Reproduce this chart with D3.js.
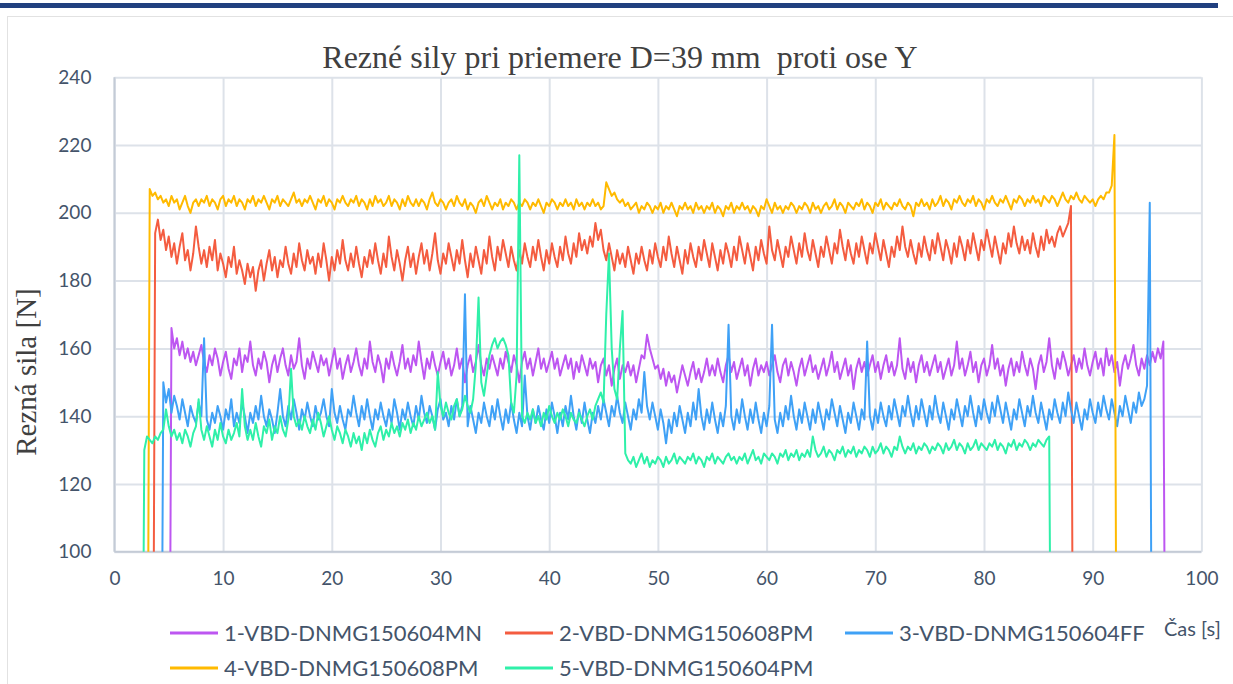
<!DOCTYPE html>
<html>
<head>
<meta charset="utf-8">
<script src="https://cdn.jsdelivr.net/npm/d3@7"></script>
<style>
  body { margin: 0; background: #fff; }
  svg { display: block; }
</style>
</head>
<body>
<div id="chart"></div>
<script>
/* CONSTANTS AND GLOBALS */
const width = 1233,
  height = 684,
  margin = { top: 77.3, bottom: 132.3, left: 114.4, right: 31.6 };

/* DATA */
const chartTitle = "Rezné sily pri priemere D=39 mm  proti ose Y";
const yTitle = "Rezná sila [N]";
const xTitle = "Čas [s]";
const seriesNames = ["1-VBD-DNMG150604MN", "2-VBD-DNMG150608PM", "3-VBD-DNMG150604FF",
  "4-VBD-DNMG150608PM", "5-VBD-DNMG150604PM"];
const seriesColors = ["#BD56F1", "#F45C40", "#3FA1F6", "#FFBA00", "#2FF0A9"];
const xTicks = [0, 10, 20, 30, 40, 50, 60, 70, 80, 90, 100];
const yTicks = [100, 120, 140, 160, 180, 200, 220, 240];

// readings every 0.25 s, first reading of each record at its start time [s]
const sampleStep = 0.25;
const startTimes = [5.0, 3.5, 4.25, 3.0, 2.5];

const force1 = [
  0, 166, 160, 163, 158, 162, 157, 160, 156, 159, 155, 158, 161, 156, 153, 158, 155, 160, 157, 152,
  156, 159, 154, 151, 157, 155, 160, 153, 158, 156, 162, 155, 152, 157, 154, 159, 156, 150, 155, 158,
  153, 157, 160, 155, 152, 158, 154, 156, 163, 155, 151, 157, 154, 159, 156, 153, 158, 155, 157, 152,
  156, 160, 154, 157, 151, 155, 158, 153, 156, 160, 155, 152, 157, 154, 162, 156, 153, 158, 155, 150,
  157, 154, 159, 155, 152, 156, 161, 154, 157, 153, 158, 155, 162, 156, 151, 157, 154, 159, 155, 152,
  156, 159, 154, 157, 152, 155, 160, 154, 157, 150, 155, 158, 153, 156, 161, 155, 152, 157, 154, 158,
  155, 152, 157, 154, 159, 156, 153, 158, 155, 150, 156, 159, 154, 157, 152, 156, 160, 154, 157, 153,
  156, 159, 154, 157, 152, 155, 158, 154, 157, 151, 156, 153, 158, 155, 152, 157, 154, 156, 150, 155,
  157, 152, 155, 149, 154, 157, 151, 155, 153, 156, 152, 155, 150, 154, 158, 157, 164, 160, 157, 154,
  155, 151, 154, 149, 153, 150, 152, 147, 151, 155, 152, 149, 153, 156, 151, 154, 150, 153, 157, 152,
  155, 152, 157, 153, 150, 155, 158, 153, 156, 151, 154, 157, 152, 155, 149, 154, 157, 152, 155, 153,
  156, 152, 155, 158, 153, 150, 155, 157, 152, 156, 153, 149, 154, 157, 152, 155, 158, 153, 155, 151,
  154, 157, 152, 155, 159, 153, 156, 151, 154, 157, 152, 155, 148, 154, 157, 153, 156, 152, 155, 158,
  153, 156, 151, 155, 158, 153, 156, 152, 155, 163, 154, 151, 157, 153, 156, 150, 155, 158, 153, 156,
  152, 155, 158, 153, 156, 151, 154, 157, 152, 155, 162, 154, 157, 152, 155, 159, 153, 156, 150, 155,
  157, 152, 155, 161, 154, 157, 152, 155, 149, 154, 157, 152, 156, 153, 159, 155, 152, 157, 154, 148,
  155, 158, 153, 156, 163, 155, 151, 157, 154, 159, 156, 152, 155, 158, 153, 157, 154, 160, 155, 152,
  156, 159, 154, 157, 152, 160, 155, 158, 153, 156, 149, 155, 158, 154, 157, 161, 155, 152, 157, 154,
  158, 155, 159, 156, 160, 157, 162, 0
];

const force2 = [
  0, 194, 198, 192, 195, 189, 193, 187, 191, 185, 190, 194, 186, 189, 183, 188, 196, 190, 185, 189,
  184, 190, 186, 192, 183, 188, 185, 181, 187, 184, 190, 182, 186, 183, 179, 185, 181, 184, 177, 183,
  186, 180, 185, 189, 183, 187, 181, 186, 184, 190, 185, 182, 188, 184, 191, 186, 183, 189, 185, 187,
  182, 188, 184, 191, 186, 180, 187, 183, 189, 185, 192, 186, 183, 188, 184, 190, 185, 181, 187, 184,
  189, 185, 191, 186, 182, 188, 184, 193, 187, 183, 189, 185, 180, 186, 190, 184, 188, 182, 187, 191,
  185, 189, 183, 188, 194, 186, 182, 188, 185, 191, 187, 183, 189, 185, 192, 186, 181, 188, 184, 190,
  186, 182, 189, 185, 193, 187, 183, 190, 186, 192, 188, 184, 190, 186, 183, 189, 185, 191, 187, 184,
  190, 186, 192, 187, 183, 189, 185, 191, 187, 184, 190, 186, 193, 188, 185, 191, 187, 194, 189, 192,
  188, 193, 190, 197, 192, 195, 189, 186, 191, 187, 183, 189, 185, 188, 184, 190, 186, 182, 188, 185,
  190, 186, 183, 189, 185, 191, 187, 184, 190, 186, 193, 188, 184, 190, 186, 182, 189, 185, 191, 187,
  184, 190, 186, 192, 188, 184, 191, 187, 183, 189, 185, 191, 188, 184, 190, 186, 193, 189, 185, 191,
  187, 183, 190, 186, 192, 188, 185, 196, 189, 186, 192, 188, 184, 190, 187, 193, 189, 185, 191, 187,
  194, 189, 186, 192, 188, 184, 190, 187, 193, 189, 185, 191, 188, 195, 190, 186, 192, 188, 185, 191,
  187, 193, 189, 185, 191, 188, 194, 190, 186, 192, 188, 184, 190, 187, 193, 189, 196, 190, 187, 192,
  188, 185, 191, 187, 193, 189, 186, 192, 188, 194, 190, 186, 192, 189, 185, 191, 187, 193, 190, 186,
  192, 188, 194, 190, 186, 192, 189, 195, 191, 187, 193, 189, 185, 191, 188, 194, 190, 196, 191, 188,
  193, 189, 192, 188, 194, 190, 187, 193, 189, 195, 191, 193, 190, 194, 196, 193, 195, 197, 202, 0
];

const force3 = [
  0, 150, 144, 148, 141, 146, 143, 139, 145, 141, 137, 143, 140, 138, 144, 140, 163, 139, 136, 141,
  138, 143, 140, 136, 142, 139, 145, 137, 141, 138, 144, 140, 135, 141, 138, 143, 139, 146, 140, 137,
  142, 139, 135, 141, 148, 140, 137, 143, 139, 145, 141, 136, 142, 139, 144, 140, 137, 143, 139, 141,
  145, 140, 137, 148, 141, 138, 143, 139, 136, 142, 140, 146, 141, 137, 143, 139, 145, 140, 136, 142,
  139, 144, 140, 137, 142, 138, 145, 141, 136, 142, 139, 144, 140, 137, 143, 139, 146, 141, 138, 143,
  140, 136, 142, 145, 139, 141, 137, 143, 139, 145, 140, 143, 176, 137, 143, 139, 135, 141, 138, 144,
  140, 137, 143, 139, 145, 140, 136, 142, 138, 144, 139, 135, 141, 137, 152, 140, 136, 142, 138, 143,
  139, 136, 142, 138, 144, 140, 135, 141, 137, 143, 139, 146, 140, 136, 142, 138, 144, 139, 135, 141,
  138, 143, 139, 145, 141, 137, 143, 140, 146, 141, 138, 144, 140, 136, 142, 139, 145, 141, 153, 143,
  139, 144, 140, 136, 142, 138, 132, 139, 135, 141, 137, 143, 139, 135, 141, 137, 144, 139, 148, 140,
  136, 142, 138, 144, 139, 135, 141, 137, 143, 167, 140, 136, 142, 138, 145, 140, 136, 142, 138, 144,
  139, 135, 141, 137, 143, 167, 139, 135, 141, 137, 143, 139, 146, 140, 136, 142, 138, 144, 140, 136,
  142, 138, 144, 140, 136, 142, 139, 145, 141, 137, 143, 139, 135, 141, 138, 144, 140, 136, 142, 139,
  162, 140, 136, 142, 138, 144, 140, 137, 143, 139, 145, 141, 137, 143, 140, 146, 141, 137, 143, 139,
  145, 141, 137, 143, 139, 146, 141, 138, 144, 140, 136, 142, 139, 145, 141, 137, 143, 140, 146, 141,
  137, 143, 139, 145, 141, 138, 144, 140, 146, 142, 138, 144, 140, 136, 142, 139, 145, 141, 137, 143,
  140, 146, 141, 138, 144, 140, 136, 142, 139, 145, 141, 138, 144, 140, 147, 142, 138, 144, 140, 136,
  142, 139, 145, 141, 138, 144, 140, 146, 142, 139, 145, 141, 137, 143, 140, 146, 142, 138, 144, 141,
  147, 143, 145, 149, 203, 0
];

const force4 = [
  0, 207, 205, 206, 204, 205, 203, 204, 202, 205, 203, 204, 201, 203, 205, 202, 200, 203, 204, 202,
  204, 203, 205, 202, 204, 203, 201, 204, 205, 202, 204, 203, 205, 202, 204, 203, 201, 204, 203, 205,
  202, 204, 203, 205, 203, 201, 204, 203, 205, 202, 204, 203, 202, 204, 206, 203, 204, 202, 204, 203,
  205, 203, 201, 204, 203, 205, 202, 204, 203, 201, 204, 203, 205, 203, 202, 204, 203, 205, 202, 204,
  203, 201, 204, 202, 205, 203, 204, 202, 203, 205, 202, 204, 203, 201, 204, 202, 205, 203, 202, 204,
  202, 204, 203, 201, 204, 206, 203, 202, 204, 203, 201, 203, 204, 202, 205, 203, 202, 204, 201, 203,
  202, 200, 203, 204, 202, 205, 203, 201, 203, 202, 204, 201, 203, 202, 204, 203, 201, 203, 202, 204,
  203, 201, 203, 202, 204, 202, 200, 203, 202, 204, 203, 201, 203, 202, 204, 202, 203, 201, 204, 202,
  203, 201, 203, 202, 204, 202, 203, 201, 202, 209, 207, 205, 206, 204, 203, 204, 202, 203, 201, 202,
  203, 200, 202, 201, 203, 202, 200, 202, 201, 203, 200, 202, 201, 203, 201, 199, 202, 201, 203, 201,
  202, 200, 203, 201, 202, 200, 202, 201, 203, 200, 202, 201, 199, 202, 201, 203, 200, 202, 201, 203,
  201, 202, 200, 202, 201, 199, 202, 201, 204, 202, 200, 203, 201, 202, 200, 202, 201, 203, 202, 200,
  202, 201, 203, 202, 200, 203, 201, 202, 200, 202, 203, 201, 202, 204, 201, 203, 202, 200, 203, 202,
  201, 203, 202, 204, 201, 203, 202, 200, 203, 202, 204, 201, 203, 202, 201, 203, 202, 204, 202, 201,
  203, 202, 199, 203, 202, 204, 202, 203, 201, 204, 202, 203, 205, 202, 204, 203, 201, 204, 203, 205,
  203, 202, 204, 203, 205, 202, 204, 203, 201, 204, 203, 205, 203, 202, 204, 203, 205, 203, 201, 204,
  203, 205, 204, 202, 204, 203, 205, 203, 204, 202, 205, 204, 203, 205, 204, 202, 204, 206, 204, 203,
  205, 204, 206, 204, 203, 205, 204, 203, 204, 202, 204, 205, 204, 206, 206, 208, 223, 0
];

const force5 = [
  0, 130, 134, 133, 132, 134, 133, 135, 136, 142, 137, 134, 136, 133, 135, 132, 136, 134, 131, 135,
  137, 145, 136, 133, 137, 134, 131, 136, 133, 138, 134, 132, 136, 133, 135, 138, 134, 148, 137, 133,
  136, 133, 138, 134, 131, 137, 135, 139, 133, 137, 135, 140, 136, 134, 139, 154, 140, 137, 139, 136,
  140, 137, 135, 139, 136, 141, 138, 134, 137, 140, 136, 133, 137, 135, 132, 136, 134, 131, 135, 132,
  134, 130, 135, 132, 136, 133, 131, 135, 137, 133, 136, 134, 138, 135, 137, 134, 138, 136, 139, 135,
  138, 136, 140, 137, 139, 141, 138, 140, 136, 153, 143, 140, 144, 141, 139, 143, 145, 140, 142, 146,
  143, 141, 145, 155, 175, 150, 146, 152, 158, 161, 163, 160, 162, 163, 161, 158, 144, 141, 152, 217,
  140, 138, 141, 139, 142, 138, 140, 137, 141, 139, 143, 140, 138, 141, 139, 142, 140, 137, 141, 139,
  138, 141, 139, 137, 140, 142, 139, 143, 145, 147, 144, 170, 188, 160, 148, 145, 160, 171, 129, 127,
  126, 128, 125, 127, 129, 126, 128, 125, 127, 126, 128, 127, 125, 128, 126, 127, 129, 126, 128, 127,
  126, 128, 127, 129, 126, 128, 127, 125, 128, 127, 129, 126, 128, 127, 126, 128, 129, 127, 128, 126,
  128, 127, 129, 126, 128, 130, 127, 128, 126, 129, 128, 127, 129, 128, 126, 129, 128, 130, 127, 129,
  128, 130, 127, 129, 128, 130, 128, 134, 130, 128, 129, 131, 128, 130, 129, 127, 130, 129, 131, 128,
  130, 129, 131, 128, 130, 129, 131, 130, 128, 131, 129, 130, 132, 129, 131, 130, 128, 131, 130, 134,
  131, 129, 131, 130, 132, 129, 131, 130, 132, 131, 129, 131, 130, 132, 131, 129, 132, 130, 131, 133,
  130, 132, 131, 129, 132, 130, 131, 133, 130, 132, 131, 130, 132, 131, 133, 130, 132, 131, 129, 132,
  131, 133, 130, 132, 131, 133, 132, 130, 132, 131, 133, 132, 131, 133, 134, 0
];

const forces = [force1, force2, force3, force4, force5];

/* SCALES */
const xScale = d3.scaleLinear()
  .domain([0, 100])
  .range([margin.left, width - margin.right]);

const yScale = d3.scaleLinear()
  .domain([100, 240])
  .range([height - margin.bottom, margin.top]);

const series = forces.map((vals, k) => ({
  name: seriesNames[k],
  color: seriesColors[k],
  points: vals.map((v, i) => ({ t: startTimes[k] + i * sampleStep, v: v }))
}));

/* SVG */
const svg = d3.select("#chart")
  .append("svg")
  .attr("width", width)
  .attr("height", height);

// page header bar and chart frame
svg.append("rect")
  .attr("x", 0).attr("y", 3)
  .attr("width", 1218).attr("height", 5)
  .attr("fill", "#21407F");

svg.append("rect")
  .attr("x", 7.5).attr("y", 16.5)
  .attr("width", 1260).attr("height", 700)
  .attr("fill", "none")
  .attr("stroke", "#E2E2E2");

// title
svg.append("text")
  .attr("x", 620)
  .attr("y", 68)
  .attr("text-anchor", "middle")
  .attr("font-family", "'Liberation Serif', 'Times New Roman', serif")
  .attr("font-size", 32)
  .attr("fill", "#404040")
  .style("white-space", "pre")
  .text(chartTitle);

// gridlines
const plotW = xScale(100) - xScale(0);
const plotH = yScale(100) - yScale(240);

svg.append("g")
  .attr("transform", `translate(${xScale(0)},0)`)
  .call(d3.axisLeft(yScale).tickValues(yTicks).tickSize(-plotW).tickFormat(""))
  .call(g => g.select(".domain").remove())
  .call(g => g.selectAll("line").attr("stroke", "#DDE2E9").attr("stroke-width", 2));

svg.append("g")
  .attr("transform", `translate(0,${yScale(100)})`)
  .call(d3.axisBottom(xScale).tickValues(xTicks).tickSize(-plotH).tickFormat(""))
  .call(g => g.select(".domain").remove())
  .call(g => g.selectAll("line").attr("stroke", "#DDE2E9").attr("stroke-width", 2));

// axis lines
svg.append("line")
  .attr("x1", xScale(0)).attr("x2", xScale(0))
  .attr("y1", yScale(240)).attr("y2", yScale(100))
  .attr("stroke", "#C4CBD6").attr("stroke-width", 2);

svg.append("line")
  .attr("x1", xScale(0)).attr("x2", xScale(100))
  .attr("y1", yScale(100)).attr("y2", yScale(100))
  .attr("stroke", "#C4CBD6").attr("stroke-width", 2);

// tick labels
const labelFont = "Lato, 'Open Sans', sans-serif";

svg.append("g")
  .attr("transform", `translate(${xScale(0)},0)`)
  .call(d3.axisLeft(yScale).tickValues(yTicks).tickSize(0).tickPadding(23))
  .call(g => g.select(".domain").remove())
  .call(g => g.selectAll("text")
    .attr("font-family", labelFont).attr("font-size", 19).attr("fill", "#44546A"));

svg.append("g")
  .attr("transform", `translate(0,${yScale(100)})`)
  .call(d3.axisBottom(xScale).tickValues(xTicks).tickSize(0).tickPadding(20))
  .call(g => g.select(".domain").remove())
  .call(g => g.selectAll("text")
    .attr("font-family", labelFont).attr("font-size", 19).attr("fill", "#44546A"));

// axis titles
svg.append("text")
  .attr("transform", "translate(36,372) rotate(-90)")
  .attr("text-anchor", "middle")
  .attr("font-family", "'Liberation Serif', 'Times New Roman', serif")
  .attr("font-size", 29)
  .attr("fill", "#404040")
  .text(yTitle);

svg.append("text")
  .attr("x", 1164)
  .attr("y", 636)
  .attr("font-family", labelFont)
  .attr("font-size", 20)
  .attr("fill", "#44546A")
  .text(xTitle);

// lines
svg.append("clipPath")
  .attr("id", "plot-clip")
  .append("rect")
  .attr("x", xScale(0)).attr("y", yScale(240))
  .attr("width", plotW).attr("height", plotH);

const line = d3.line()
  .x(d => xScale(d.t))
  .y(d => yScale(d.v));

svg.append("g")
  .attr("clip-path", "url(#plot-clip)")
  .selectAll("path")
  .data(series)
  .join("path")
  .attr("d", d => line(d.points))
  .attr("fill", "none")
  .attr("stroke", d => d.color)
  .attr("stroke-width", 2)
  .attr("stroke-linejoin", "round");

// legend
const legendCols = [170, 505, 845];
const legendRows = [633, 668];

const legendItem = svg.append("g")
  .selectAll("g")
  .data(series)
  .join("g")
  .attr("transform", (d, i) => `translate(${legendCols[i % 3]},${legendRows[Math.floor(i / 3)]})`);

legendItem.append("line")
  .attr("x1", 0).attr("x2", 48)
  .attr("stroke", d => d.color)
  .attr("stroke-width", 3);

legendItem.append("text")
  .attr("x", 54)
  .attr("dy", "0.35em")
  .attr("font-family", labelFont)
  .attr("font-size", 22)
  .attr("fill", "#44546A")
  .text(d => d.name);
</script>
</body>
</html>
